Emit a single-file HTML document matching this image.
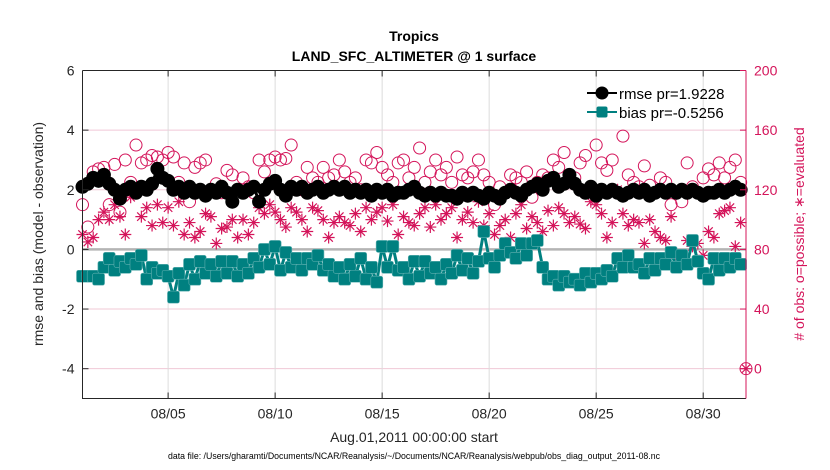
<!DOCTYPE html>
<html><head><meta charset="utf-8"><style>
body{margin:0;background:#fff;}
svg{display:block;font-family:"Liberation Sans",sans-serif;}
</style></head><body>
<svg id="chart" width="830" height="470" xmlns="http://www.w3.org/2000/svg">
<rect width="830" height="470" fill="#fff"/>
<g id="grid"></g>
<g id="series"></g>
<g id="axes"></g>
<text x="414" y="41" text-anchor="middle" font-size="14" font-weight="bold">Tropics</text>
<text x="414" y="61" text-anchor="middle" font-size="14" font-weight="bold">LAND_SFC_ALTIMETER @ 1 surface</text>
<text transform="translate(43,234) rotate(-90)" text-anchor="middle" font-size="14" fill="#262626">rmse and bias (model - observation)</text>
<text transform="translate(804,234) rotate(-90)" text-anchor="middle" font-size="14" fill="#d4145a"># of obs: o=possible; ∗=evaluated</text>
<text x="414" y="442" text-anchor="middle" font-size="14" fill="#262626">Aug.01,2011 00:00:00 start</text>
<text x="414" y="459" text-anchor="middle" font-size="8.8" fill="#000" textLength="492" lengthAdjust="spacingAndGlyphs">data file: /Users/gharamti/Documents/NCAR/Reanalysis/~/Documents/NCAR/Reanalysis/webpub/obs_diag_output_2011-08.nc</text>
<g id="legend"></g>
</svg>
<script>
const rmse=[2.1,2.2,2.4,2.3, 2.5,2.2,2.0,1.7, 2.0,2.1,1.9,2.1, 2.0,2.2,2.7,2.4, 2.3,2.0,2.1,1.9, 2.1,1.9,2.0,1.8, 2.0,1.9,2.1,1.9, 1.6,2.0,1.9,2.0, 2.1,1.6,2.0,2.2, 2.3,2.0,1.8,2.1, 2.0,2.1,1.9,2.0, 2.1,1.9,2.0,2.1, 2.0,2.1,1.9,2.0, 1.9,2.0,1.8,2.0, 1.9,2.0,1.8,1.9, 1.9,2.0,2.1,1.9, 1.8,1.9,1.8,1.9, 1.8,1.8,1.7,1.9, 1.8,1.9,1.8,1.7, 1.9,1.8,1.7,1.9, 2.0,1.9,1.8,2.0, 2.1,2.2,2.0,2.3, 2.4,2.1,2.2,2.5, 2.2,2.0,1.9,2.1, 1.8,2.0,1.9,2.0, 1.9,1.8,1.9,2.0, 1.9,2.0,1.8,1.9, 2.0,1.9,2.0,1.9, 2.0,1.9,2.0,1.9, 1.8,1.9,1.9,2.0, 1.9,2.0,2.1,2.0];
const bias=[-0.9,-0.9,-0.9,-1.0, -0.6,-0.3,-0.7,-0.4, -0.6,-0.3,-0.5,-0.2, -1.0,-0.6,-0.8,-0.7, -0.9,-1.6,-0.8,-1.2, -0.5,-1.0,-0.4,-0.8, -0.5,-0.9,-0.4,-0.8, -0.4,-0.9,-0.5,-0.8, -0.3,-0.6,0.0,-0.5, 0.1,-0.7,-0.1,-0.6, -0.3,-0.7,-0.3,-0.5, -0.2,-0.7,-0.5,-0.9, -0.6,-1.0,-0.5,-0.9, -0.3,-1.0,-0.6,-1.1, 0.1,-0.6,0.1,-0.7, -0.6,-1.0,-0.4,-0.9, -0.4,-0.8,-0.6,-1.0, -0.5,-0.8,-0.2,-0.7, -0.3,-0.8,-0.4,0.6, -0.3,-0.6,-0.2,0.2, -0.1,-0.3,0.2,-0.2, 0.2,0.3,-0.6,-1.0, -0.9,-1.2,-0.9,-1.1, -1.0,-1.2,-0.8,-1.1, -0.8,-1.0,-0.7,-0.9, -0.3,-0.6,-0.2,-0.6, -0.5,-0.8,-0.3,-0.7, -0.3,-0.5,-0.1,-0.6, -0.2,-0.5,0.3,-0.4, -0.8,-1.0,-0.3,-0.7, -0.3,-0.6,-0.3,-0.5];
const possible=[110,95,132,134, 135,110,137,105, 140,125,150,138, 140,143,142,140, 145,142,125,138, 112,135,138,140, 120,124,118,133, 130,120,128,122, 118,140,132,140, 142,140,141,150, 125,120,135,128, 125,135,128,130, 140,132,125,128, 120,140,138,145, 135,130,125,138, 140,128,135,148, 125,132,140,130, 135,125,142,130, 128,132,140,130, 125,110,122,118, 130,128,125,132, 115,125,130,128, 140,135,145,130, 128,138,143,120, 150,138,133,140, 118,156,130,125, 122,136,123,118, 128,125,110,118, 112,138,122,118, 128,134,130,138, 128,135,140,125];
const evaluated=[90,85,88,100, 105,100,110,102, 90,115,120,102, 108,96,110,98, 108,96,112,90, 98,88,92,104, 102,84,94,95, 100,88,100,90, 98,108,104,110, 105,100,95,108, 105,100,92,108, 106,100,88,98, 102,98,96,104, 92,108,100,105, 108,99,110,90, 102,98,96,104, 108,95,110,100, 104,108,88,100, 105,98,112,96, 104,90,96,100, 88,104,110,94, 102,98,92,106, 96,108,104,98, 102,97,94,112, 110,104,88,98, 120,104,96,100, 98,84,100,92, 88,86,102,74, 70,86,82,84, 76,92,88,104, 106,108,82,98];
const xTickDays=[4,9,14,19,24,29];
const xTickLabels=["08/05","08/10","08/15","08/20","08/25","08/30"];
const yTicks=[-4,-2,0,2,4,6];
const y2Ticks=[0,40,80,120,160,200];
const legendLabels=["rmse pr=1.9228","bias pr=-0.5256"];

const NS="http://www.w3.org/2000/svg";
const L=82.5,R=746,T=70.5,B=398.5,MAG="#d4145a",TEAL="#008080";
const x=d=>L+(d/31)*(R-L);
const y=v=>T+(6-v)/11*(B-T);
const y2=c=>y(-4+c/20);
function mk(tag,attrs,parent){const e=document.createElementNS(NS,tag);for(const k in attrs)e.setAttribute(k,attrs[k]);parent.appendChild(e);return e;}
const grid=document.getElementById('grid'),ser=document.getElementById('series'),ax=document.getElementById('axes'),leg=document.getElementById('legend');

yTicks.forEach(v=>{const l=mk('line',{x1:L,x2:R,y1:y(v),y2:y(v),stroke:'#f0c8d6','stroke-width':1},grid);

});
xTickDays.forEach(d=>{const l=mk('line',{x1:x(d),x2:x(d),y1:T,y2:B,stroke:'#dcdcdc','stroke-width':1},grid);

});
const z=mk('line',{x1:L,x2:R,y1:y(0),y2:y(0),stroke:'#b4b4b4','stroke-width':2.5},grid);



possible.forEach((c,i)=>{const e=mk('circle',{cx:x(i/4),cy:y2(c),r:6,fill:'none',stroke:MAG,'stroke-width':1},ser);

});
evaluated.forEach((c,i)=>{const cx=x(i/4),cy=y2(c),s=6;const g=mk('path',{d:`M${cx-s} ${cy}H${cx+s}M${cx} ${cy-s}V${cy+s}M${cx-4.2} ${cy-4.2}L${cx+4.2} ${cy+4.2}M${cx-4.2} ${cy+4.2}L${cx+4.2} ${cy-4.2}`,stroke:MAG,'stroke-width':1.2,fill:'none'},ser);

});
const rl=mk('polyline',{points:rmse.map((v,i)=>x(i/4)+','+y(v)).join(' '),fill:'none',stroke:'#000','stroke-width':3},ser);


rmse.forEach((v,i)=>{const e=mk('circle',{cx:x(i/4),cy:y(v),r:7,fill:'#000'},ser);

});
const bl=mk('polyline',{points:bias.map((v,i)=>x(i/4)+','+y(v)).join(' '),fill:'none',stroke:TEAL,'stroke-width':3},ser);


bias.forEach((v,i)=>{const e=mk('rect',{x:x(i/4)-6,y:y(v)-6,width:12,height:12,rx:2,fill:TEAL,stroke:'#5fb0b0','stroke-width':0.6},ser);

});

const m0=mk('circle',{cx:R,cy:y2(0),r:6,fill:'none',stroke:MAG,'stroke-width':1},ser);


const m1=mk('path',{d:`M${R-6} ${y2(0)}H${R+6}M${R} ${y2(0)-6}V${y2(0)+6}M${R-4.2} ${y2(0)-4.2}L${R+4.2} ${y2(0)+4.2}M${R-4.2} ${y2(0)+4.2}L${R+4.2} ${y2(0)-4.2}`,stroke:MAG,'stroke-width':1.2},ser);



const a1=mk('path',{d:`M${L} ${T}V${B}H${R}`,fill:'none',stroke:'#262626','stroke-width':1},ax);


const a2=mk('line',{x1:L,x2:R,y1:T,y2:T,stroke:'#262626','stroke-width':1},ax);


const a3=mk('line',{x1:R,x2:R,y1:T,y2:B,stroke:MAG,'stroke-width':1},ax);


yTicks.forEach(v=>{const l=mk('line',{x1:L,x2:L+6,y1:y(v),y2:y(v),stroke:'#262626'},ax);


const t=mk('text',{x:L-8,y:y(v)+5,'text-anchor':'end','font-size':14,fill:'#262626'},ax);t.textContent=v;

});
y2Ticks.forEach(c=>{const l=mk('line',{x1:R-6,x2:R,y1:y2(c),y2:y2(c),stroke:MAG},ax);


const t=mk('text',{x:R+8,y:y2(c)+5,'font-size':14,fill:MAG},ax);t.textContent=c;

});
xTickDays.forEach((d,i)=>{const l=mk('line',{x1:x(d),x2:x(d),y1:B,y2:B-6,stroke:'#262626'},ax);


mk('line',{x1:x(d),x2:x(d),y1:T,y2:T+6,stroke:'#262626'},ax);
const t=mk('text',{x:x(d),y:B+20,'text-anchor':'middle','font-size':14,fill:'#262626'},ax);t.textContent=xTickLabels[i];

});

[[93,'#000','c'],[112,TEAL,'s']].forEach((r,i)=>{
const l=mk('line',{x1:587,x2:617,y1:r[0],y2:r[0],stroke:r[1],'stroke-width':2},leg);


if(r[2]==='c')mk('circle',{cx:602,cy:r[0],r:6.5,fill:'#000'},leg);
else mk('rect',{x:596.5,y:r[0]-5.5,width:11,height:11,rx:2,fill:TEAL},leg);
const t=mk('text',{x:619,y:r[0]+6,'font-size':15,fill:'#000'},leg);t.textContent=legendLabels[i];

});
</script>
</body></html>
